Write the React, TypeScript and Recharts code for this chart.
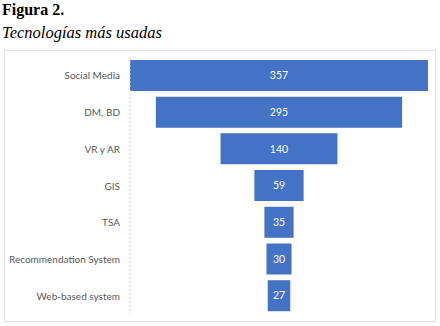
import { BarChart, Bar, XAxis, YAxis, LabelList } from 'recharts';

const categories = [
  'Social Media',
  'DM, BD',
  'VR y AR',
  'GIS',
  'TSA',
  'Recommendation System',
  'Web-based system',
];
const values = [357, 295, 140, 59, 35, 30, 27];

const maxValue = Math.max(...values);

// funnel look: an invisible offset bar pushes each bar to the centre
const data = categories.map((name, i) => ({
  name,
  offset: (maxValue - values[i]) / 2,
  value: values[i],
}));

// plain tick so long names stay on one line
const CategoryTick = ({ x, y, payload }: any) => (
  <text x={x - 8} y={y} dy={4} textAnchor="end" fontSize={10} fill="#595959" fontFamily="Lato">
    {payload.value}
  </text>
);

export default function App() {
  return (
    <div style={{ position: 'absolute', left: 0, top: 0, width: 440, height: 326, background: '#fff' }}>
      <div style={{ position: 'absolute', left: 2, top: 1, fontFamily: '"Liberation Serif", serif', fontWeight: 'bold', fontSize: 16, color: '#000' }}>
        Figura 2.
      </div>
      <div style={{ position: 'absolute', left: 2, top: 23, fontFamily: '"Liberation Serif", serif', fontStyle: 'italic', fontSize: 16.5, color: '#000' }}>
        Tecnologías más usadas
      </div>
      <div style={{ position: 'absolute', left: 4, top: 50, width: 432, height: 272, border: '1px solid #e2e2e2', boxSizing: 'border-box' }}>
        <BarChart
          width={430}
          height={270}
          data={data}
          layout="vertical"
          margin={{ top: 6, right: 7, left: 0, bottom: 7 }}
          barCategoryGap="8%"
        >
          <XAxis type="number" domain={[0, maxValue]} hide />
          <YAxis
            type="category"
            dataKey="name"
            width={125}
            tickLine={false}
            tickSize={0}
            axisLine={{ stroke: '#d0d0d0', strokeDasharray: '2 2' }}
            tick={<CategoryTick />}
            interval={0}
          />
          <Bar dataKey="offset" stackId="a" fill="transparent" isAnimationActive={false} />
          <Bar dataKey="value" stackId="a" fill="#4472C4" isAnimationActive={false}>
            <LabelList dataKey="value" position="center" fill="#fff" fontSize={10.5} fontFamily="Lato" />
          </Bar>
        </BarChart>
      </div>
    </div>
  );
}
